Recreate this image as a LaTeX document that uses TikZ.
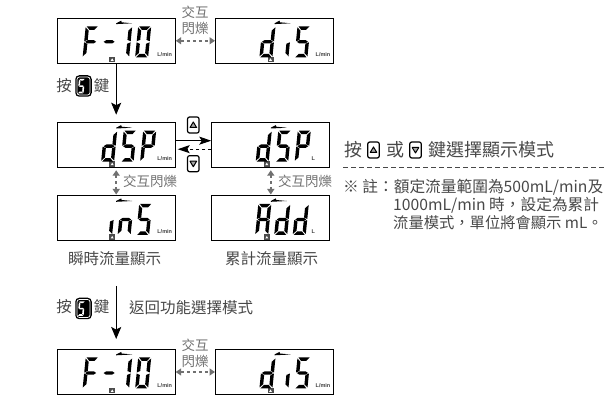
\documentclass[tikz,border=0pt]{standalone}
\usepackage{fontspec}
\setmainfont{Noto Sans CJK TC}
\newfontfamily\unitfont{Liberation Sans}
\usetikzlibrary{arrows.meta}
\definecolor{textgray}{HTML}{484848}
\definecolor{blinkgray}{HTML}{707070}
% segments of one lcd digit, 13 wide and 31 high before the slant
\def\lcdsega{(1,0)--(12,0)--(9,3.5)--(4,3.5)--cycle}
\def\lcdsegb{(13,1)--(13,15)--(9.6,13.5)--(9.6,4.3)--cycle}
\def\lcdsegc{(13,16)--(13,30)--(9.6,26.7)--(9.6,17.5)--cycle}
\def\lcdsegd{(1,31)--(4,27.5)--(9,27.5)--(12,31)--cycle}
\def\lcdsege{(0,16)--(3.4,17.5)--(3.4,26.7)--(0,30)--cycle}
\def\lcdsegf{(0,1)--(3.4,4.3)--(3.4,13.5)--(0,15)--cycle}
\def\lcdsegg{(1,15.5)--(3.5,13.8)--(9.5,13.8)--(12,15.5)--(9.5,17.2)--(3.5,17.2)--cycle}
\def\segdigit[#1](#2,#3)#4{\begin{scope}[shift={(#2+3,#3)},#1,xslant=0.1]
	\foreach \s in {#4} {\fill \csname lcdseg\s\endcsname;}
\end{scope}}
\tikzset{
	lcdbox/.style={draw=black,line width=1pt,fill=white,minimum width=118pt,minimum height=45pt,inner sep=0pt},
	unittext/.style={font=\unitfont\bfseries\fontsize{5.5}{6}\selectfont,text=black!75,inner sep=0pt},
	labeltext/.style={font=\fontsize{15.5}{18}\selectfont,text=textgray,inner sep=0pt},
	bigtext/.style={font=\fontsize{18}{20}\selectfont,text=textgray,inner sep=0pt},
	notetext/.style={font=\fontsize{15.3}{17}\selectfont,text=textgray,inner sep=0pt,anchor=west},
	blinktext/.style={font=\fontsize{13.5}{16}\selectfont,text=blinkgray,inner sep=0pt,align=center},
	mainarrow/.style={-{Stealth[length=12pt,width=10pt,inset=2.5pt]},line width=1pt},
	swaparrow/.style={-{Stealth[length=12pt,width=8pt,inset=2.5pt]},line width=1pt},
	blinkarrow/.style={{Stealth[length=5.5pt,width=7pt,inset=0pt]}-{Stealth[length=5.5pt,width=7pt,inset=0pt]},color=blinkgray,line width=1.7pt,dash pattern=on 3pt off 3pt},
	skeybox/.style={fill=black,draw=white,line width=0.7pt,rounded corners=2.5pt,minimum width=13pt,minimum height=18pt,inner sep=0pt,preaction={draw=black,line width=3.5pt}},
	arrowkey/.style={draw=black,line width=1.2pt,fill=white,rounded corners=2pt,minimum width=11.5pt,minimum height=16pt,inner sep=0pt}
}
% one display: name, centre, x of the unit, unit, digits
\def\lcd#1(#2,#3)#4#5#6{
	\node[lcdbox] (#1) at (#2,#3) {};
	\begin{scope}[shift={(#2-59,#3-22.5)}]
		\fill (59,5)--(64,2.4)--(64.5,4)--(75,5)--(59,5.8)--cycle;
		\fill[black!70] (52,38.5) rectangle (58,44);
		\fill[white] (53.5,42.5)--(55,40)--(56.5,42.5)--cycle;
		\node[unittext] (#1unit) at (#4,36) {#5};
		#6
	\end{scope}
}
\def\skey#1(#2,#3){
	\node[skeybox] (#1) at (#2,#3) {};
	\segdigit[color=white,scale=0.46](#2-7.5,#3-7){a,f,g,c,d}
}
\def\upkey#1(#2,#3){
	\node[arrowkey] (#1) at (#2,#3) {};
	\draw[line width=1pt,line join=round,fill=black!35] (#2-3.3,#3+2.5) -- (#2,#3-3) -- (#2+3.3,#3+2.5) -- cycle;
}
\def\downkey#1(#2,#3){
	\node[arrowkey] (#1) at (#2,#3) {};
	\draw[line width=1pt,line join=round,fill=black!35] (#2-3.3,#3-2.5) -- (#2,#3+3) -- (#2+3.3,#3-2.5) -- cycle;
}
\def\ftendigits{\segdigit[](25.5,8){a,f,g,e}\segdigit[](44,8){g}\segdigit[](59,8){b,c}\segdigit[](78,8){a,b,c,d,e,f}}
\def\disdigits{\segdigit[](44,8){b,c,d,e,g}\segdigit[](60,8){c}\segdigit[](79,8){a,f,g,c,d}}
\def\dspdigits{\segdigit[](44,8){b,c,d,e,g}\segdigit[](63.5,8){a,f,g,c,d}\segdigit[](83,8){a,b,e,f,g}}

\begin{document}
\begin{tikzpicture}[x=1pt,y=-1pt]
	%%%%% START %%%%%
	\useasboundingbox (0,0) rectangle (606,398);

	\lcd{ftena}(116.2,40.8){107.5}{L/min}{\ftendigits}
	\lcd{disa}(274.5,40.8){107.5}{L/min}{\disdigits}
	\lcd{dspa}(116.2,145.2){107.5}{L/min}{\dspdigits}
	\lcd{dspb}(270.8,145.2){101.5}{L}{\dspdigits}
	\lcd{insa}(116.2,218.5){107.5}{L/min}{\segdigit[](42,8){c}\segdigit[](60.5,8){e,g,c}\segdigit[](79,8){a,f,g,c,d}}
	\lcd{addb}(270.8,218.5){101.5}{L}{\segdigit[](43.5,8){a,b,c,e,f,g}\segdigit[](62.5,8){b,c,d,e,g}\segdigit[](81,8){b,c,d,e,g}}
	\lcd{ftenc}(116.2,372){107.5}{L/min}{\ftendigits}
	\lcd{disc}(274.5,372){107.5}{L/min}{\disdigits}

	% blinking pairs
	\draw[blinkarrow] (ftena) -- (disa);
	\node[blinktext] (blinka) at (195,20.5) {交互\\閃爍};
	\draw[blinkarrow] (ftenc) -- (disc);
	\node[blinktext] (blinkc) at (195,353) {交互\\閃爍};
	\draw[blinkarrow,shorten <=2pt,shorten >=1pt] (dspa) -- (insa);
	\node[blinktext,anchor=west] (blinkl) at (123,181) {交互閃爍};
	\draw[blinkarrow,shorten <=2pt,shorten >=1pt] (dspb) -- (addb);
	\node[blinktext,anchor=west] (blinkr) at (278,181) {交互閃爍};

	% first S key
	\draw[mainarrow,shorten >=7.5pt] (ftena) -- (dspa);
	\node[labeltext] (pressa) at (64,86) {按};
	\skey{skeya}(83.5,86)
	\node[labeltext] (keya) at (101.5,86) {鍵};

	% up and down keys
	\upkey{upa}(193.3,125)
	\downkey{downa}(193.3,163.7)
	\draw[swaparrow] ([yshift=4.5pt]dspa.east) -- ([yshift=4.5pt]dspb.west);
	\draw[swaparrow,dashed,shorten >=2pt] ([yshift=-4pt]dspb.west) -- ([yshift=-4pt]dspa.east);

	% captions
	\node[labeltext] (captiona) at (114.5,259) {瞬時流量顯示};
	\node[labeltext] (captionb) at (271.5,259) {累計流量顯示};

	% second S key
	\coordinate (backtop) at (116.2,286);
	\draw[mainarrow,shorten >=10pt] (backtop) -- (ftenc);
	\node[labeltext] (pressb) at (64,307) {按};
	\skey{skeyb}(83.5,308.5)
	\node[labeltext] (keyb) at (101.5,307) {鍵};
	\node[labeltext,anchor=west] (backtext) at (129,308) {返回功能選擇模式};

	% text on the right
	\node[bigtext] (pressc) at (353.5,150) {按};
	\upkey{upb}(373.5,150)
	\node[bigtext] (orc) at (395,150) {或};
	\downkey{downb}(415.5,150)
	\node[bigtext,anchor=west] (selecttext) at (428,150) {鍵選擇顯示模式};
	\coordinate (rulel) at (343,167);
	\coordinate (ruler) at (605,167);
	\draw[color=textgray,line width=0.8pt,dash pattern=on 5pt off 3pt] (rulel) -- (ruler);
	\node[notetext,font=\fontsize{15.7}{17}\selectfont] (notea) at (343,187) {※ 註：額定流量範圍為500mL/min及};
	\node[notetext,font=\fontsize{15.7}{17}\selectfont] (noteb) at (393,205) {1000mL/min 時，設定為累計};
	\node[notetext] (notec) at (393,223) {流量模式，單位將會顯示 mL。};
	%%%%% END %%%%%
\end{tikzpicture}
\end{document}
